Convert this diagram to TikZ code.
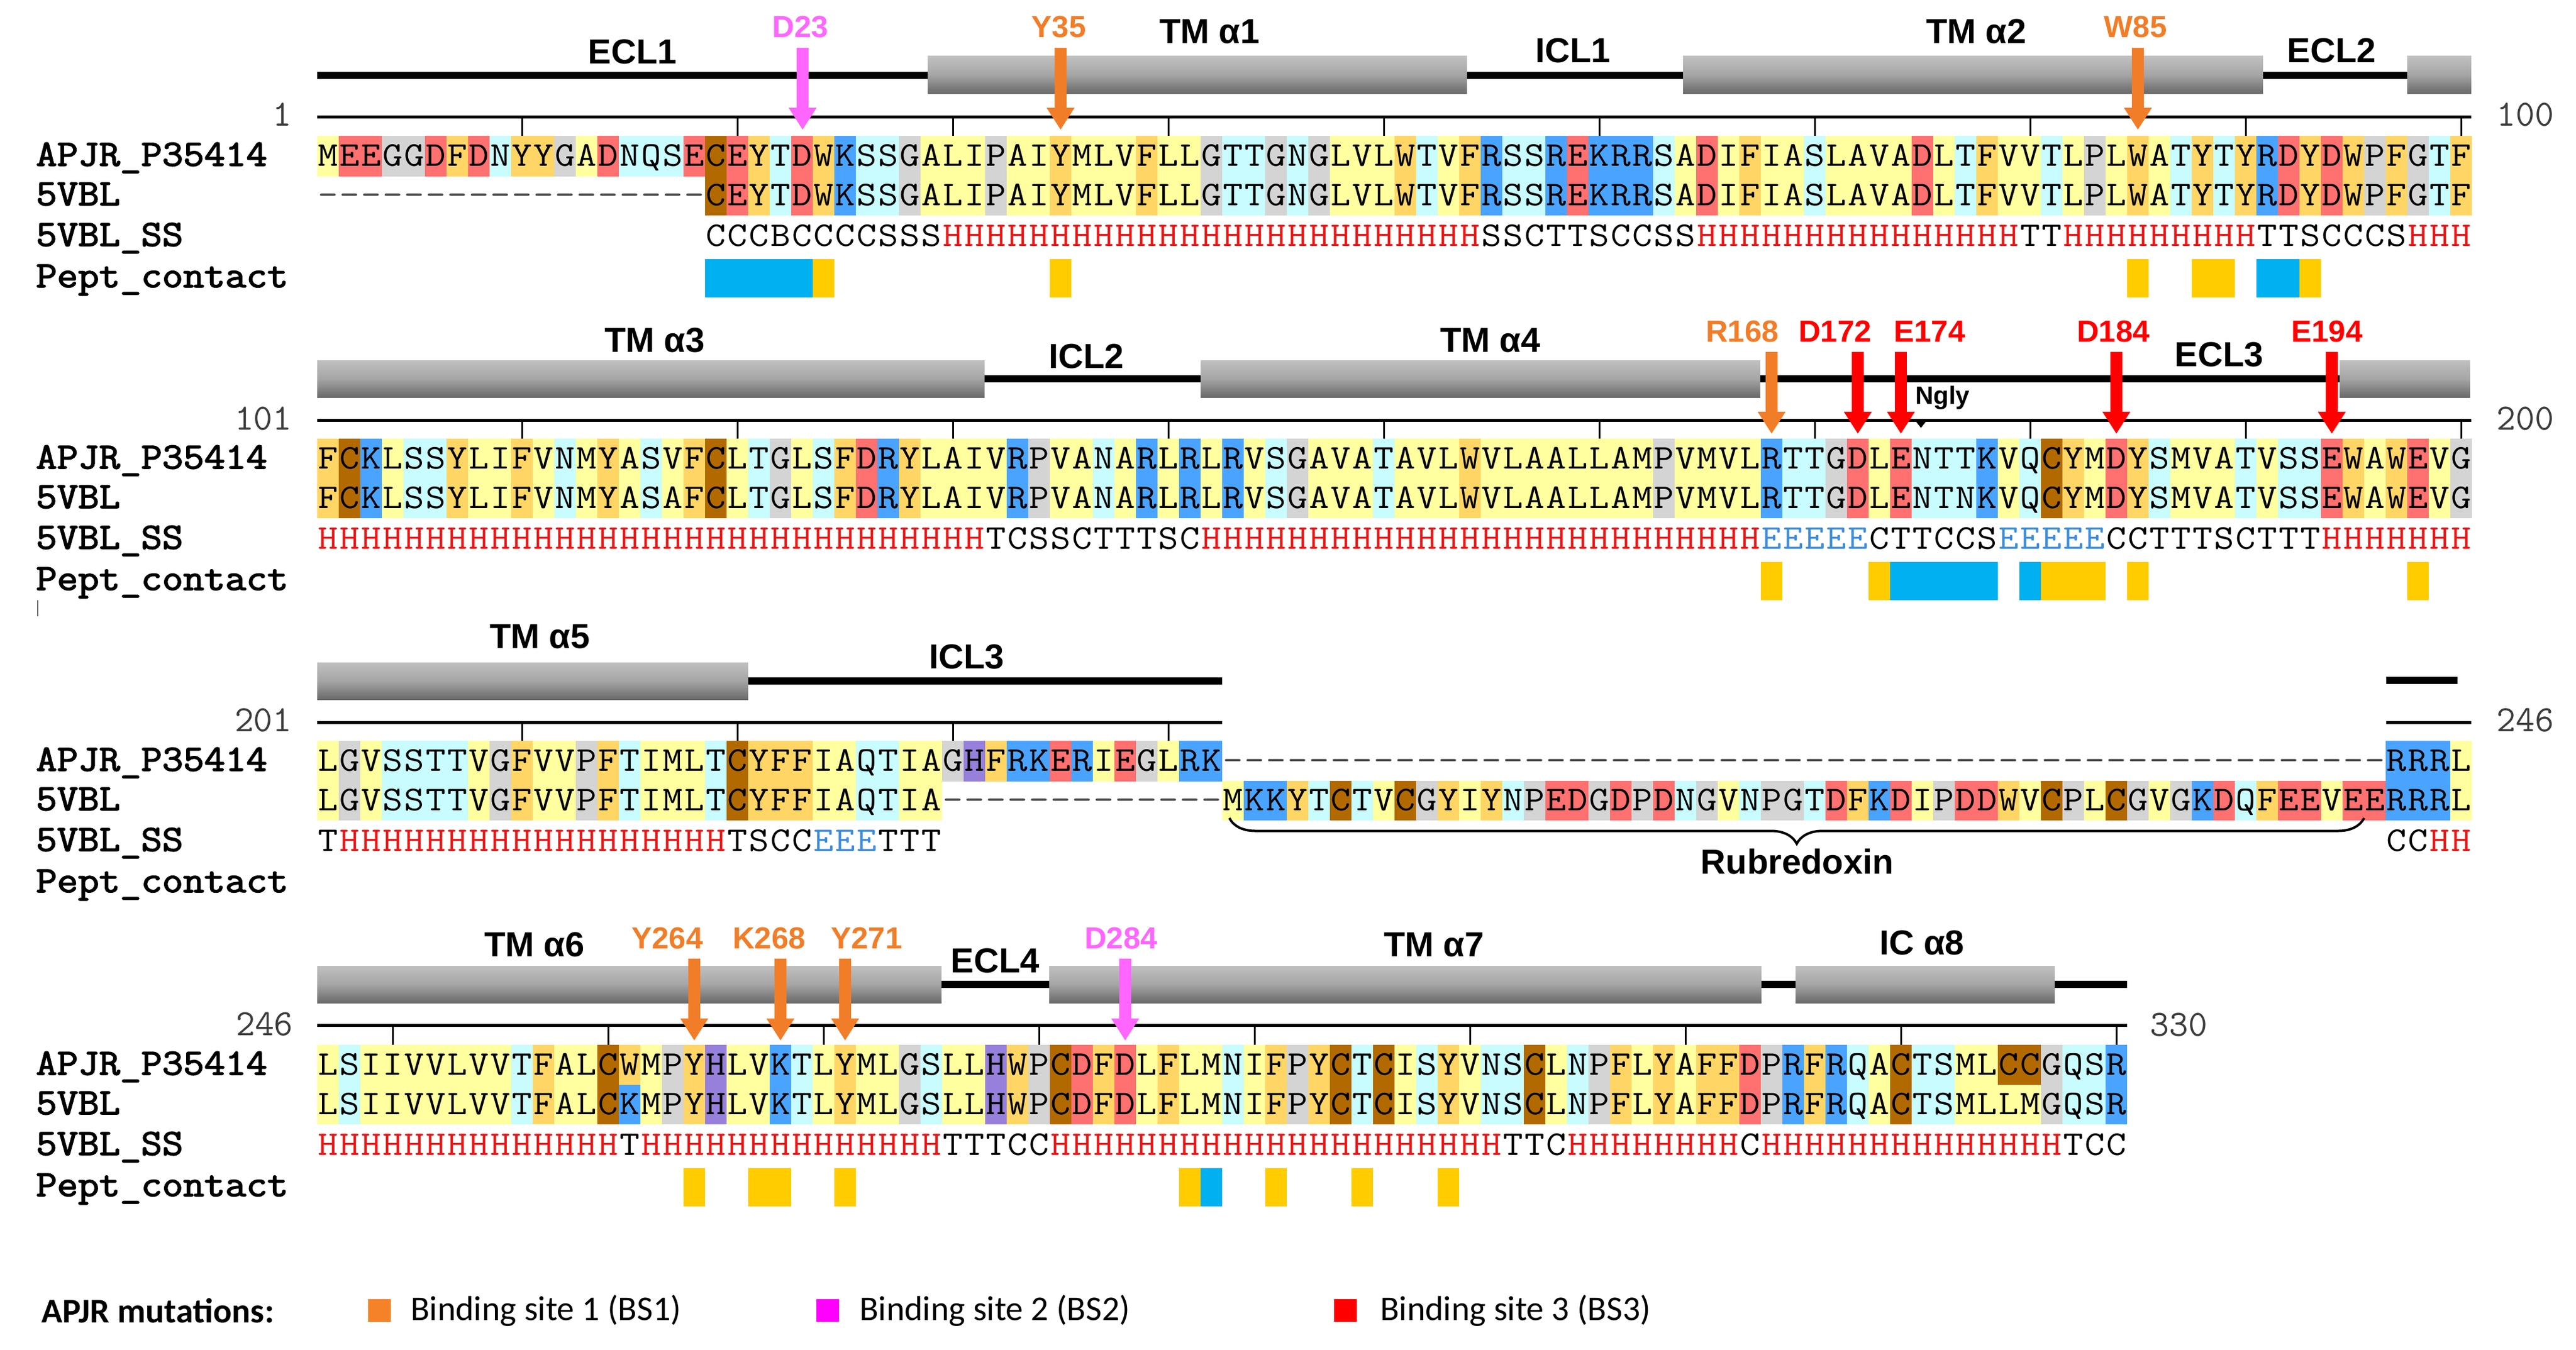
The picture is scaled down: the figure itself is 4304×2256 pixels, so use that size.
\documentclass[tikz,border=0pt]{standalone}
\usepackage{fontspec}
\usetikzlibrary{arrows.meta,decorations.pathreplacing}
\newfontfamily\sansf{Liberation Sans}
\newfontfamily\legf{Carlito}
\newfontfamily\lmbold{Latin Modern Mono}[FakeBold=2.5]

\definecolor{cAIL}{RGB}{255,255,160}
\definecolor{cFWY}{RGB}{255,214,102}
\definecolor{cSTNQ}{RGB}{200,252,255}
\definecolor{cGP}{RGB}{212,212,212}
\definecolor{cDE}{RGB}{255,112,112}
\definecolor{cKR}{RGB}{74,164,255}
\definecolor{cH}{RGB}{150,128,220}
\definecolor{cC}{RGB}{178,106,0}
\definecolor{mOr}{RGB}{242,125,40}
\definecolor{mMg}{RGB}{255,102,255}
\definecolor{mRd}{RGB}{255,0,0}
\definecolor{lgOr}{RGB}{245,130,40}
\definecolor{lgMg}{RGB}{255,0,255}
\definecolor{ssH}{RGB}{235,20,20}
\definecolor{ssE}{RGB}{60,140,220}
\definecolor{pY}{RGB}{255,204,0}
\definecolor{pB}{RGB}{0,176,240}
\definecolor{hxT}{RGB}{192,192,192}
\definecolor{hxM}{RGB}{165,165,165}
\definecolor{hxB}{RGB}{105,105,105}
\definecolor{numC}{RGB}{60,60,60}
\definecolor{gapC}{RGB}{70,70,70}

\makeatletter
\def\setrc#1#2{\expandafter\def\csname rc@#1\endcsname{#2}}
\setrc A{cAIL}\setrc I{cAIL}\setrc L{cAIL}\setrc M{cAIL}\setrc V{cAIL}
\setrc F{cFWY}\setrc W{cFWY}\setrc Y{cFWY}
\setrc S{cSTNQ}\setrc T{cSTNQ}\setrc N{cSTNQ}\setrc Q{cSTNQ}
\setrc G{cGP}\setrc P{cGP}
\setrc D{cDE}\setrc E{cDE}
\setrc K{cKR}\setrc R{cKR}
\setrc H{cH}\setrc C{cC}
\def\setsc#1#2{\expandafter\def\csname sc@#1\endcsname{#2}}
\setsc H{ssH}\setsc E{ssE}

\newcount\rescol
\def\seqloop#1{\ifx#1\relax\else\resaction{#1}\global\advance\rescol by 1\relax\expandafter\seqloop\fi}

\def\fillact#1{%
  \ifcsname rc@#1\endcsname
    \edef\cx{\the\numexpr530+36*(\scol+\rescol)\relax}%
    \edef\fc{\csname rc@#1\endcsname}%
    \fill[fill=\fc] (\cx,\ytop) rectangle (\cx+36,\ybot);%
  \fi}
\def\textact#1{%
  \edef\cx{\the\numexpr530+36*(\scol+\rescol)+18\relax}%
  \edef\nn{\rowid\the\numexpr\scol+\rescol\relax}%
  \if#1-\def\tc{gapC}\else\def\tc{black}\fi
  \node[seqtxt,text=\tc,name=\nn] at (\cx,\ybase) {\scalebox{1.12}[1]{#1}};}
\def\ssact#1{%
  \edef\cx{\the\numexpr530+36*(\scol+\rescol)+18\relax}%
  \edef\nn{\rowid\the\numexpr\scol+\rescol\relax}%
  \ifcsname sc@#1\endcsname\edef\tc{\csname sc@#1\endcsname}\else\def\tc{black}\fi
  \node[seqtxt,text=\tc,name=\nn] at (\cx,\ybase) {\scalebox{1.12}[1]{#1}};}
\makeatother

\newcommand\seqpair[4]{%
  \def\scol{0}%
  \def\ytop{#1+227}\def\ybot{#1+294.5}\let\resaction\fillact\global\rescol=0 \seqloop#3\relax
  \def\ytop{#1+294}\def\ybot{#1+360}\global\rescol=0 \seqloop#4\relax
  \def\ybase{#1+277}\def\rowid{#2a}\let\resaction\textact\global\rescol=0 \seqloop#3\relax
  \def\ybase{#1+343}\def\rowid{#2b}\global\rescol=0 \seqloop#4\relax}
\newcommand\ssrow[4]{%
  \def\scol{#3}\def\ybase{#1+411}\def\rowid{#2s}\let\resaction\ssact\global\rescol=0 \seqloop#4\relax}
\newcommand\rowlabels[2]{%
  \node[rowlab] (#2la) at (60,#1+277) {\scalebox{1.1}[1]{APJR\_P35414}};
  \node[rowlab] (#2lb) at (60,#1+343) {\scalebox{1.1}[1]{5VBL}};
  \node[rowlab] (#2ls) at (60,#1+411) {\scalebox{1.1}[1]{5VBL\_SS}};
  \node[rowlab] (#2lp) at (60,#1+480) {\scalebox{1.1}[1]{Pept\_contact}};}
\newcommand\pept[4]{%
  \fill[#4] (530+36*#2,#1+433) rectangle (530+36*#2+36*#3,#1+497);}
\newcommand\ticks[3]{%
  \foreach \c in {#3} {\draw[tick] (530+36*\c+18,#1) -- (530+36*\c+18,#2);}}
\newcommand\helixbox[3]{\fill[helix] (#1,#3) rectangle (#2,#3+62);}
\newcommand\mut[5]{% name, color, label x, label base, arrow x
  \node[mlab,text=#2] (#1) at (#3,#4) {#1};
  \coordinate (#1s) at (#5,#4+17);
  \coordinate (#1e) at (#5,#4+154);
  \draw[marrow,#2] (#1s) -- (#1e);}

\begin{document}
\begin{tikzpicture}[x=1pt,y=-1pt,
  seqtxt/.style={font=\ttfamily\fontsize{58}{58}\selectfont, inner sep=0pt, anchor=base},
  rowlab/.style={font=\lmbold\fontsize{62}{62}\selectfont, inner sep=0pt, anchor=base west},
  numlab/.style={font=\ttfamily\fontsize{62}{62}\selectfont, text=numC, inner sep=0pt},
  hlab/.style={font=\sansf\bfseries\fontsize{58}{58}\selectfont, inner sep=0pt, anchor=base},
  mlab/.style={font=\sansf\bfseries\fontsize{51}{51}\selectfont, inner sep=0pt, anchor=base},
  loopline/.style={line width=12pt},
  helix/.style={top color=hxT, bottom color=hxB, middle color=hxM},
  ruler/.style={line width=5pt},
  tick/.style={line width=3pt},
  marrow/.style={line width=20pt, -{Triangle[width=44pt,length=37pt]}},
  legsq/.style={minimum size=38pt, inner sep=0pt},
  leglab/.style={font=\legf\fontsize{58}{58}\selectfont, anchor=west, inner sep=0pt}
]
\fill[white] (0,0) rectangle (4304,2256);
\useasboundingbox (0,0) rectangle (4304,2256);

% ================= ROW 1 =================
\draw[loopline] (530,126) -- (4129,126);
\helixbox{1550}{2451}{94}
\helixbox{2812}{3781}{94}
\helixbox{4022}{4129}{94}
\node[hlab] (ecl1) at (1057,107) {ECL1};
\node[hlab] (tm1) at (2021,73) {TM α1};
\node[hlab] (icl1) at (2628,105) {ICL1};
\node[hlab] (tm2) at (3302,73) {TM α2};
\node[hlab] (ecl2) at (3896,105) {ECL2};
\draw[ruler] (530,195) -- (4129,195);
\ticks{195}{227}{9,19,29,39,49,59,69,79,89,99}
\node[numlab,anchor=base east] (n1) at (488,210) {1};
\node[numlab,anchor=base west] (n100) at (4171,210) {100};
\rowlabels{0}{r1}
\seqpair{0}{r1}
{MEEGGDFDNYYGADNQSECEYTDWKSSGALIPAIYMLVFLLGTTGNGLVLWTVFRSSREKRRSADIFIASLAVADLTFVVTLPLWATYTYRDYDWPFGTF}
{---------- -------- CEYTDWKSSGALIPAIYMLVFLLGTTGNGLVLWTVFRSSREKRRSADIFIASLAVADLTFVVTLPLWATYTYRDYDWPFGTF}
\ssrow{0}{r1}{18}{CCCBCCCCSSS HHHHHHHHHHHHHHHHHHHHHHHHH SSCTTSCCSS HHHHHHHHHHHHHHH TT HHHHHHHHH TTSCCCS HHH}
\pept{0}{18}{5}{pB}\pept{0}{23}{1}{pY}\pept{0}{34}{1}{pY}\pept{0}{84}{1}{pY}
\pept{0}{87}{2}{pY}\pept{0}{90}{2}{pB}\pept{0}{92}{1}{pY}
\mut{D23}{mMg}{1337}{63}{1341}
\mut{Y35}{mOr}{1769}{63}{1772}
\mut{W85}{mOr}{3568}{63}{3572}

% ================= ROW 2 =================
\draw[loopline] (530,633) -- (4127,633);
\helixbox{530}{1645}{602}
\helixbox{2006}{2941}{602}
\helixbox{3909}{4127}{602}
\node[hlab] (tm3) at (1094,588) {TM α3};
\node[hlab] (icl2) at (1815,615) {ICL2};
\node[hlab] (tm4) at (2490,588) {TM α4};
\node[hlab] (ecl3) at (3708,612) {ECL3};
\draw[ruler] (530,702) -- (4129,702);
\ticks{702}{733}{9,19,29,39,49,59,69,79,89,99}
\fill (3200,703) -- (3219,703) -- (3209.5,715) -- cycle;
\node[font=\sansf\bfseries\fontsize{42}{42}\selectfont, inner sep=0pt, anchor=base west] (ngly) at (3200,675) {Ngly};
\node[numlab,anchor=base east] (n101) at (488,718) {101};
\node[numlab,anchor=base west] (n200) at (4171,718) {200};
\rowlabels{506}{r2}
\seqpair{506}{r2}
{FCKLSSYLIFVNMYASVFCLTGLSFDRYLAIVRPVANARLRLRVSGAVATAVLWVLAALLAMPVMVLRTTGDLENTTKVQCYMDYSMVATVSSEWAWEVG}
{FCKLSSYLIFVNMYASAFCLTGLSFDRYLAIVRPVANARLRLRVSGAVATAVLWVLAALLAMPVMVLRTTGDLENTNKVQCYMDYSMVATVSSEWAWEVG}
\ssrow{506}{r2}{0}{HHHHHHHHHH HHHHHHHHHH HHHHHHHHHH H TCSSCTTTSC HHHHHHHHHH HHHHHHHHHH HHHHHH EEEEE CTTCCS EEEEE CCTTTSCTTT HHHHHHH}
\pept{506}{67}{1}{pY}\pept{506}{72}{1}{pY}\pept{506}{73}{5}{pB}\pept{506}{79}{1}{pB}
\pept{506}{80}{3}{pY}\pept{506}{84}{1}{pY}\pept{506}{97}{1}{pY}
\mut{R168}{mOr}{2911}{571}{2960}
\mut{D172}{mRd}{3066}{571}{3104}
\mut{E174}{mRd}{3224}{571}{3176}
\mut{D184}{mRd}{3531}{571}{3536}
\mut{E194}{mRd}{3888}{571}{3896}

% ================= ROW 3 =================
\draw[loopline] (1250,1138) -- (2042,1138);
\draw[loopline] (3987,1137) -- (4106,1137);
\helixbox{530}{1250}{1107}
\node[hlab] (tm5) at (902,1083) {TM α5};
\node[hlab] (icl3) at (1615,1117) {ICL3};
\draw[ruler] (530,1207) -- (2042,1207);
\draw[ruler] (3987,1207) -- (4129,1207);
\ticks{1207}{1238}{9,19,29,39}
\node[numlab,anchor=base east] (n201) at (488,1222) {201};
\node[numlab,anchor=base west] (n246a) at (4171,1222) {246};
\rowlabels{1011}{r3}
\seqpair{1011}{r3}
{LGVSSTTVGFVVPFTIMLTCYFFIAQTIAGHFRKERIEGLRK ---------- ---------- ---------- ---------- ---------- ---- RRRL}
{LGVSSTTVGFVVPFTIMLTCYFFIAQTIA ---------- --- MKKYTCTVCGYIYNPEDGDPDNGVNPGTDFKDIPDDWVCPLCGVGKDQFEEVEE RRRL}
\ssrow{1011}{r3}{0}{T HHHHHHHHHHHHHHHHHH TSCC EEE TTT}
\ssrow{1011}{r3}{96}{CCHH}
\coordinate (rbL) at (2054,1367);
\coordinate (rbR) at (3950,1367);
\draw[line width=4pt, decorate, decoration={brace, mirror, amplitude=43pt}] (rbL) -- (rbR);
\node[hlab] (rubre) at (3003,1460) {Rubredoxin};
\draw[line width=2pt, black!60] (63,1003) -- (63,1030);

% ================= ROW 4 =================
\draw[loopline] (530,1645) -- (3554,1645);
\helixbox{530}{1573}{1614}
\helixbox{1753}{2943}{1614}
\helixbox{3000}{3433}{1614}
\node[hlab] (tm6) at (893,1598) {TM α6};
\node[hlab] (ecl4) at (1663,1625) {ECL4};
\node[hlab] (tm7) at (2396,1598) {TM α7};
\node[hlab] (ic8) at (3211,1595) {IC α8};
\draw[ruler] (530,1713) -- (3554,1713);
\ticks{1713}{1746}{3,13,23,33,43,53,63,73,83}
\node[numlab,anchor=base east] (n246b) at (490,1730) {246};
\node[numlab,anchor=base west] (n330) at (3592,1731) {330};
\rowlabels{1519}{r4}
\seqpair{1519}{r4}
{LSIIVVLVVTFALCWMPYHLVKTLYMLGSLLHWPCDFDLFLMNIFPYCTCISYVNSCLNPFLYAFFDPRFRQACTSMLCCGQSR}
{LSIIVVLVVTFALCKMPYHLVKTLYMLGSLLHWPCDFDLFLMNIFPYCTCISYVNSCLNPFLYAFFDPRFRQACTSMLLMGQSR}
\ssrow{1519}{r4}{0}{HHHHHHHHHHHHHH T HHHHHHHHHHHHHH TTTCC HHHHHHHHHHHHHHHHHHHHH TTC HHHHHHHH C HHHHHHHHHHHHHH TCC}
\pept{1519}{17}{1}{pY}\pept{1519}{20}{2}{pY}\pept{1519}{24}{1}{pY}\pept{1519}{40}{1}{pY}
\pept{1519}{41}{1}{pB}\pept{1519}{44}{1}{pY}\pept{1519}{48}{1}{pY}\pept{1519}{52}{1}{pY}
\mut{Y264}{mOr}{1115}{1585}{1160}
\mut{K268}{mOr}{1285}{1585}{1304}
\mut{Y271}{mOr}{1448}{1585}{1412}
\mut{D284}{mMg}{1873}{1585}{1880}

% ================= LEGEND =================
\node[font=\legf\bfseries\fontsize{58}{58}\selectfont, anchor=west, inner sep=0pt] (legt) at (69,2190) {APJR mutations:};
\node[legsq, fill=lgOr] (lg1) at (634,2190) {};
\node[leglab] (lt1) at (686,2190) {Binding site 1 (BS1)};
\node[legsq, fill=lgMg] (lg2) at (1383,2190) {};
\node[leglab] (lt2) at (1436,2190) {Binding site 2 (BS2)};
\node[legsq, fill=mRd] (lg3) at (2248,2190) {};
\node[leglab] (lt3) at (2306,2190) {Binding site 3 (BS3)};
\end{tikzpicture}
\end{document}
